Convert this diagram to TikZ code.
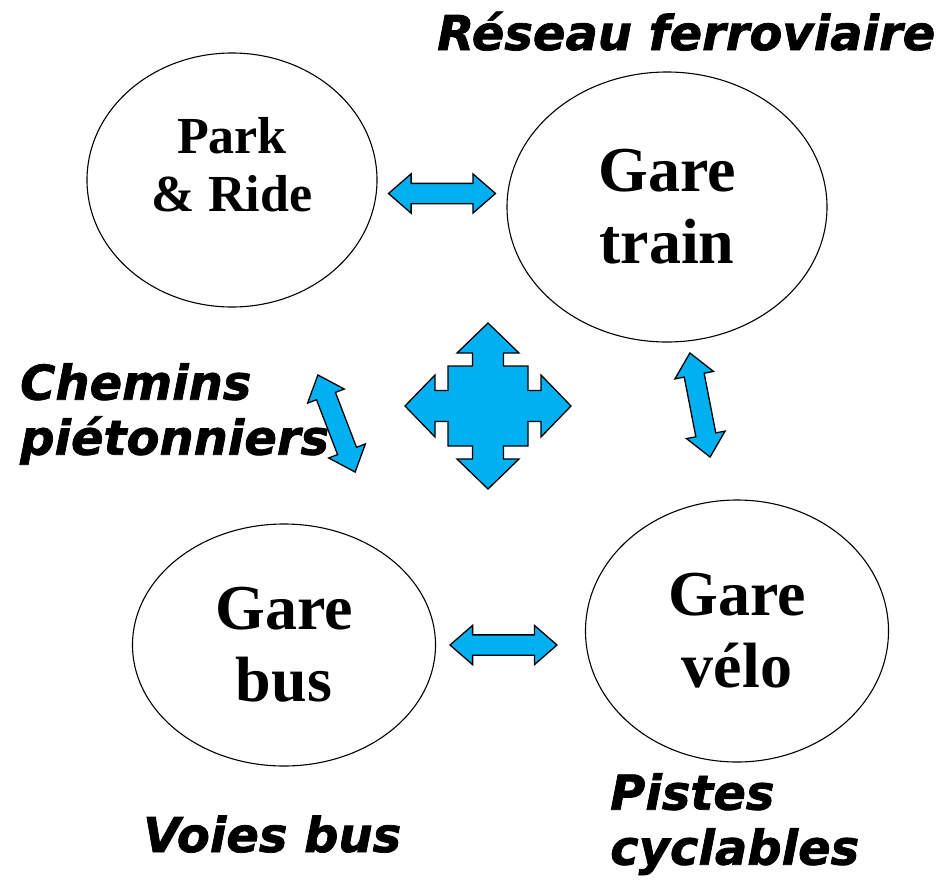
\documentclass[tikz,border=0pt]{standalone}
\usepackage{fontspec}
\setmainfont{Liberation Serif}
\newfontfamily\zonefont[BoldItalicFeatures={FakeBold=1.5}]{DejaVu Sans}
\usetikzlibrary{shapes.geometric,shapes.arrows,calc}
\definecolor{linkblue}{RGB}{0,176,240}

\begin{document}
\begin{tikzpicture}[x=1pt,y=-1pt,
  station/.style={ellipse,draw,line width=1.1pt,inner sep=0pt,align=center,
    font=\bfseries\fontsize{64}{72}\selectfont},
  link/.style={double arrow,draw,fill=linkblue,line width=1.3pt,inner sep=9.5pt,
    minimum height=107pt,minimum width=38pt,double arrow head extend=9.5pt,
    double arrow tip angle=82},
  zone/.style={font=\zonefont\bfseries\itshape\fontsize{48}{55}\selectfont,
    align=left,inner sep=0pt}]
  \useasboundingbox (0,0) rectangle (942,879);
  % les gares
  \node[station,minimum width=290pt,minimum height=254pt] (park) at (232,180) {};
  \node[align=center,inner sep=0pt,font=\bfseries\fontsize{52}{58}\selectfont]
    (parktext) at ([yshift=15pt]park.center) {Park\\\& Ride};
  \node[station,minimum width=320pt,minimum height=270pt] (train) at (667,207) {Gare\\train};
  \node[station,minimum width=303pt,minimum height=242pt] (bus) at (284,645) {Gare\\bus};
  \node[station,minimum width=303pt,minimum height=262pt] (velo) at (737,631) {Gare\\vélo};
  % liaisons
  \node[link] (parktrain) at ($(park.east)!0.5!(train.west)$) {};
  \node[link] (busvelo) at (503.5,645) {};
  \node[link,rotate=-69,minimum height=104pt] (parkbus) at (336.5,423.5) {};
  \node[link,rotate=-79,minimum height=106pt] (trainvelo) at (700,405) {};
  % croisement central
  \coordinate (hub) at (488,406);
  \begin{scope}[shift={(hub)}]
    \draw[fill=linkblue,line width=1.3pt,line join=miter]
      (0,-83) -- (31,-53) -- (15.5,-53) -- (15.5,-40) -- (40,-40) -- (40,-15.5)
      -- (53,-15.5) -- (53,-31) -- (83,0) -- (53,31) -- (53,15.5) -- (40,15.5)
      -- (40,40) -- (15.5,40) -- (15.5,53) -- (31,53) -- (0,83) -- (-31,53)
      -- (-15.5,53) -- (-15.5,40) -- (-40,40) -- (-40,15.5) -- (-53,15.5)
      -- (-53,31) -- (-83,0) -- (-53,-31) -- (-53,-15.5) -- (-40,-15.5)
      -- (-40,-40) -- (-15.5,-40) -- (-15.5,-53) -- (-31,-53) -- cycle;
  \end{scope}
  % réseaux
  \node[zone,anchor=base west] (rail) at (437,50) {Réseau ferroviaire};
  \node[zone,anchor=north west] (walk) at (20,363) {Chemins\\piétonniers};
  \node[zone,anchor=base west] (buslane) at (143,852) {Voies bus};
  \node[zone,anchor=north west] (bike) at (610,773) {Pistes\\cyclables};
\end{tikzpicture}
\end{document}
